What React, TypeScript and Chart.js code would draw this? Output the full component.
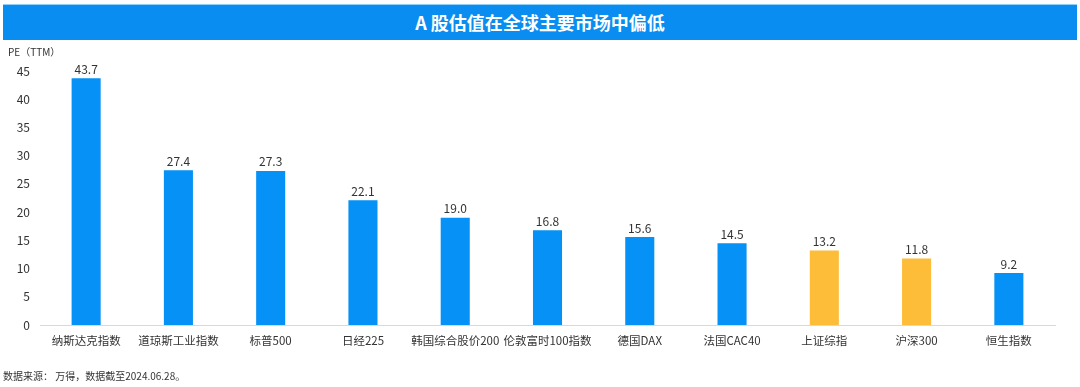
import React, { useEffect, useRef } from "react";
import { Chart, registerables } from "chart.js";

Chart.register(...registerables);

const categories = ["纳斯达克指数", "道琼斯工业指数", "标普500", "日经225", "韩国综合股价200", "伦敦富时100指数", "德国DAX", "法国CAC40", "上证综指", "沪深300", "恒生指数"];
const peValues = [43.7, 27.4, 27.3, 22.1, 19.0, 16.8, 15.6, 14.5, 13.2, 11.8, 9.2];
const highlight = [false, false, false, false, false, false, false, false, true, true, false];
const yTicks = [0, 5, 10, 15, 20, 25, 30, 35, 40, 45];

const BLUE = "#0591F5";
const YELLOW = "#FDBD39";
const FONT = "'Noto Sans CJK SC', 'Noto Sans', sans-serif";

const labelPlugin = {
  id: "valueLabels",
  afterDatasetsDraw(chart: any) {
    const ctx = chart.ctx;
    const meta = chart.getDatasetMeta(0);
    ctx.save();
    ctx.font = `12px ${FONT}`;
    ctx.fillStyle = "#333333";
    ctx.textAlign = "center";
    ctx.textBaseline = "bottom";
    meta.data.forEach((bar: any, i: number) => {
      ctx.fillText(peValues[i].toFixed(1), bar.x, bar.y - 3);
    });
    ctx.restore();
  },
};

export default function App() {
  const ref = useRef<HTMLCanvasElement>(null);
  useEffect(() => {
    const chart = new Chart(ref.current!, {
      type: "bar",
      data: {
        labels: categories,
        datasets: [
          {
            data: peValues,
            backgroundColor: highlight.map((h) => (h ? YELLOW : BLUE)),
            barPercentage: 0.315,
            categoryPercentage: 1,
          },
        ],
      },
      options: {
        animation: false,
        responsive: false,
        maintainAspectRatio: false,
        layout: { padding: { top: 71, right: 25, left: 0, bottom: 0 } },
        plugins: { legend: { display: false }, tooltip: { enabled: false }, title: { display: false } },
        scales: {
          x: {
            grid: { display: false, drawTicks: false },
            border: { display: true, color: "#D9D9D9", width: 1 },
            ticks: { color: "#333333", font: { family: FONT, size: 11.5 }, padding: 9, maxRotation: 0, autoSkip: false },
            afterFit(scale: any) {
              scale.height = 62;
            },
          },
          y: {
            min: 0,
            max: 45,
            afterBuildTicks(scale: any) {
              scale.ticks = yTicks.map((v) => ({ value: v }));
            },
            grid: { display: false, drawTicks: false },
            border: { display: false },
            ticks: { color: "#333333", font: { family: FONT, size: 12 }, padding: 10 },
            afterFit(scale: any) {
              scale.width = 40;
            },
          },
        },
      },
      plugins: [labelPlugin],
    });
    return () => chart.destroy();
  }, []);

  return (
    <div style={{ position: "fixed", left: 0, top: 0, width: 1080, height: 387, background: "#fff", overflow: "hidden" }}>
      <canvas ref={ref} width={1080} height={387} style={{ position: "absolute", left: 0, top: 0, width: 1080, height: 387 }} />
      <div
        style={{
          position: "absolute",
          left: 3,
          top: 4,
          width: 1074,
          height: 35,
          background: "#0A8DF0",
          borderTop: "1px solid #8FD0FA",
          color: "#fff",
          fontFamily: FONT,
          fontWeight: 700,
          fontSize: 18,
          lineHeight: "35px",
          textAlign: "center",
        }}
      >
        A 股估值在全球主要市场中偏低
      </div>
      <div style={{ position: "absolute", left: 8, top: 44, fontFamily: FONT, fontSize: 10, color: "#333", whiteSpace: "nowrap" }}>
        PE（TTM）
      </div>
      <div style={{ position: "absolute", left: 3, top: 368, fontFamily: FONT, fontSize: 10, color: "#333", whiteSpace: "nowrap" }}>
        数据来源： 万得，数据截至2024.06.28。
      </div>
    </div>
  );
}
